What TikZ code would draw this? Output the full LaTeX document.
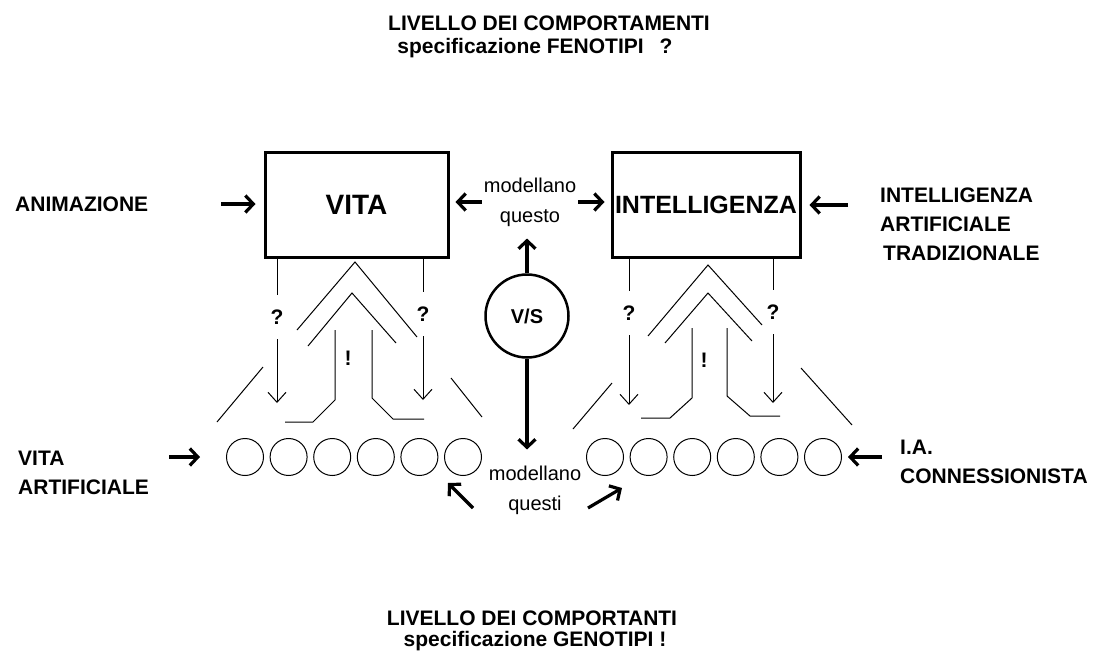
\documentclass[tikz,border=0pt]{standalone}
\usepackage{fontspec}
\setmainfont{Liberation Sans}
\usetikzlibrary{arrows.meta}

\tikzset{
  lab/.style={font=\fontsize{21}{29}\selectfont\bfseries, inner sep=0pt, align=left},
  small/.style={font=\fontsize{20}{30}\selectfont, inner sep=2pt, align=center},
  box/.style={draw, line width=3pt, minimum height=105pt, inner sep=0pt, font=\fontsize{25}{30}\selectfont\bfseries},
  qmark/.style={lab, minimum height=44pt},
  unit/.style={circle, draw, line width=1pt, minimum size=37pt, inner sep=0pt},
  vsbox/.style={circle, draw, line width=2.5pt, minimum size=83pt, inner sep=0pt, font=\fontsize{20}{24}\selectfont\bfseries},
  wire/.style={line width=1pt},
  bigarrow/.style={line width=3.2pt, -{Straight Barb[length=8pt,width=17pt]}},
  thinarrow/.style={line width=1pt, -{Straight Barb[length=10pt,width=18pt]}}
}

\begin{document}
\begin{tikzpicture}[x=1pt,y=-1pt]
            \useasboundingbox (0,0) rectangle (1101,659);

            \node[lab] (toptitle) at (549,23) {LIVELLO DEI COMPORTAMENTI};
            \node[lab] (topspec) at (535,48) {specificazione FENOTIPI\hspace{16pt}?};
            \node[lab] (bottitle) at (532,618) {LIVELLO DEI COMPORTANTI};
            \node[lab] (botspec) at (535,641) {specificazione GENOTIPI !};

            \node[box, minimum width=183pt, font=\fontsize{28}{30}\selectfont\bfseries] (vita) at (356.5,204.5) {VITA};
            \node[box, minimum width=188pt] (intel) at (706,205) {INTELLIGENZA};

            \node[lab, anchor=west] (anim) at (15,204) {ANIMAZIONE};
            \node[lab, anchor=west] (iat) at (880,224) {INTELLIGENZA\\ARTIFICIALE\\\hspace{3pt}TRADIZIONALE};
            \node[lab, anchor=west] (va) at (18,473) {VITA\\ARTIFICIALE};
            \node[lab, anchor=west] (ia) at (900,462) {I.A.\\CONNESSIONISTA};

            \node[small] (mq) at (530,202) {modellano\\questo};
            \node[small] (mqi) at (535,490) {modellano\\questi};
            \node[vsbox] (vs) at (527,316) {V/S};

            \foreach \i in {1,...,6} {
              \node[unit] (c\i) at ({201.4+43.6*\i},457) {};
              \node[unit] (d\i) at ({561.4+43.6*\i},457) {};
            }

            \draw[bigarrow, shorten <=73pt, shorten >=8pt] (anim.east) -- (anim.east -| vita.west);
            \draw[bigarrow, shorten <=32pt, shorten >=8pt] (iat.west |- intel.east) -- (intel.east);
            \draw[bigarrow, shorten >=6pt] (mq.west) -- (mq.west -| vita.east);
            \draw[bigarrow, shorten >=6pt] (mq.east) -- (mq.east -| intel.west);
            \draw[bigarrow, shorten >=10pt] (vs.north) -- (vs.north |- mq.south);
            \draw[bigarrow, shorten >=14pt] (vs.south) -- (vs.south |- mqi.north);
            \draw[bigarrow, shorten <=20pt, shorten >=26pt] (va.east |- c1) -- (c1.west);
            \draw[bigarrow, shorten <=18pt, shorten >=6pt] (ia.west |- d6) -- (d6.east);

            \coordinate (nwtail) at (473,508);
            \coordinate (nwtip) at (448,483);
            \coordinate (netail) at (588,508);
            \coordinate (netip) at (622,488);
            \draw[bigarrow] (nwtail) -- (nwtip);
            \draw[bigarrow] (netail) -- (netip);

            % ? links between the levels
            \node[qmark] (q1) at (277,317) {?};
            \node[qmark] (q2) at (423,314) {?};
            \node[qmark] (q3) at (629,313) {?};
            \node[qmark] (q4) at (773,312) {?};
            \draw[wire] (vita.south -| q1) -- (q1.north);
            \draw[wire] (vita.south -| q2) -- (q2.north);
            \draw[wire] (intel.south -| q3) -- (q3.north);
            \draw[wire] (intel.south -| q4) -- (q4.north);
            \draw[thinarrow, shorten >=35pt] (q1.south) -- (q1.south |- c1.north);
            \draw[thinarrow, shorten >=38pt] (q2.south) -- (q2.south |- c1.north);
            \draw[thinarrow, shorten >=33pt] (q3.south) -- (q3.south |- d1.north);
            \draw[thinarrow, shorten >=35pt] (q4.south) -- (q4.south |- d1.north);

            \node[lab] (ex1) at (348,358) {!};
            \node[lab] (ex2) at (704,360) {!};

            \draw[wire] (297,330) -- (355,262) -- (417,337);
            \draw[wire] (308,346) -- (352,293) -- (396,343);
            \draw[wire] (335,330) -- (335,400) -- (313,422) -- (285,422);
            \draw[wire] (372,330) -- (372,398) -- (393,419) -- (424,419);
            \draw[wire] (217,422) -- (263,367);
            \draw[wire] (451,378) -- (482,417);

            \draw[wire] (648,336) -- (708,265) -- (762,325);
            \draw[wire] (665,343) -- (708,293) -- (752,341);
            \draw[wire] (692,328) -- (692,398) -- (670,418) -- (641,418);
            \draw[wire] (727,328) -- (727,396) -- (750,416) -- (780,416);
            \draw[wire] (573,429) -- (612,383);
            \draw[wire] (801,368) -- (852,425);
        \end{tikzpicture}
\end{document}
